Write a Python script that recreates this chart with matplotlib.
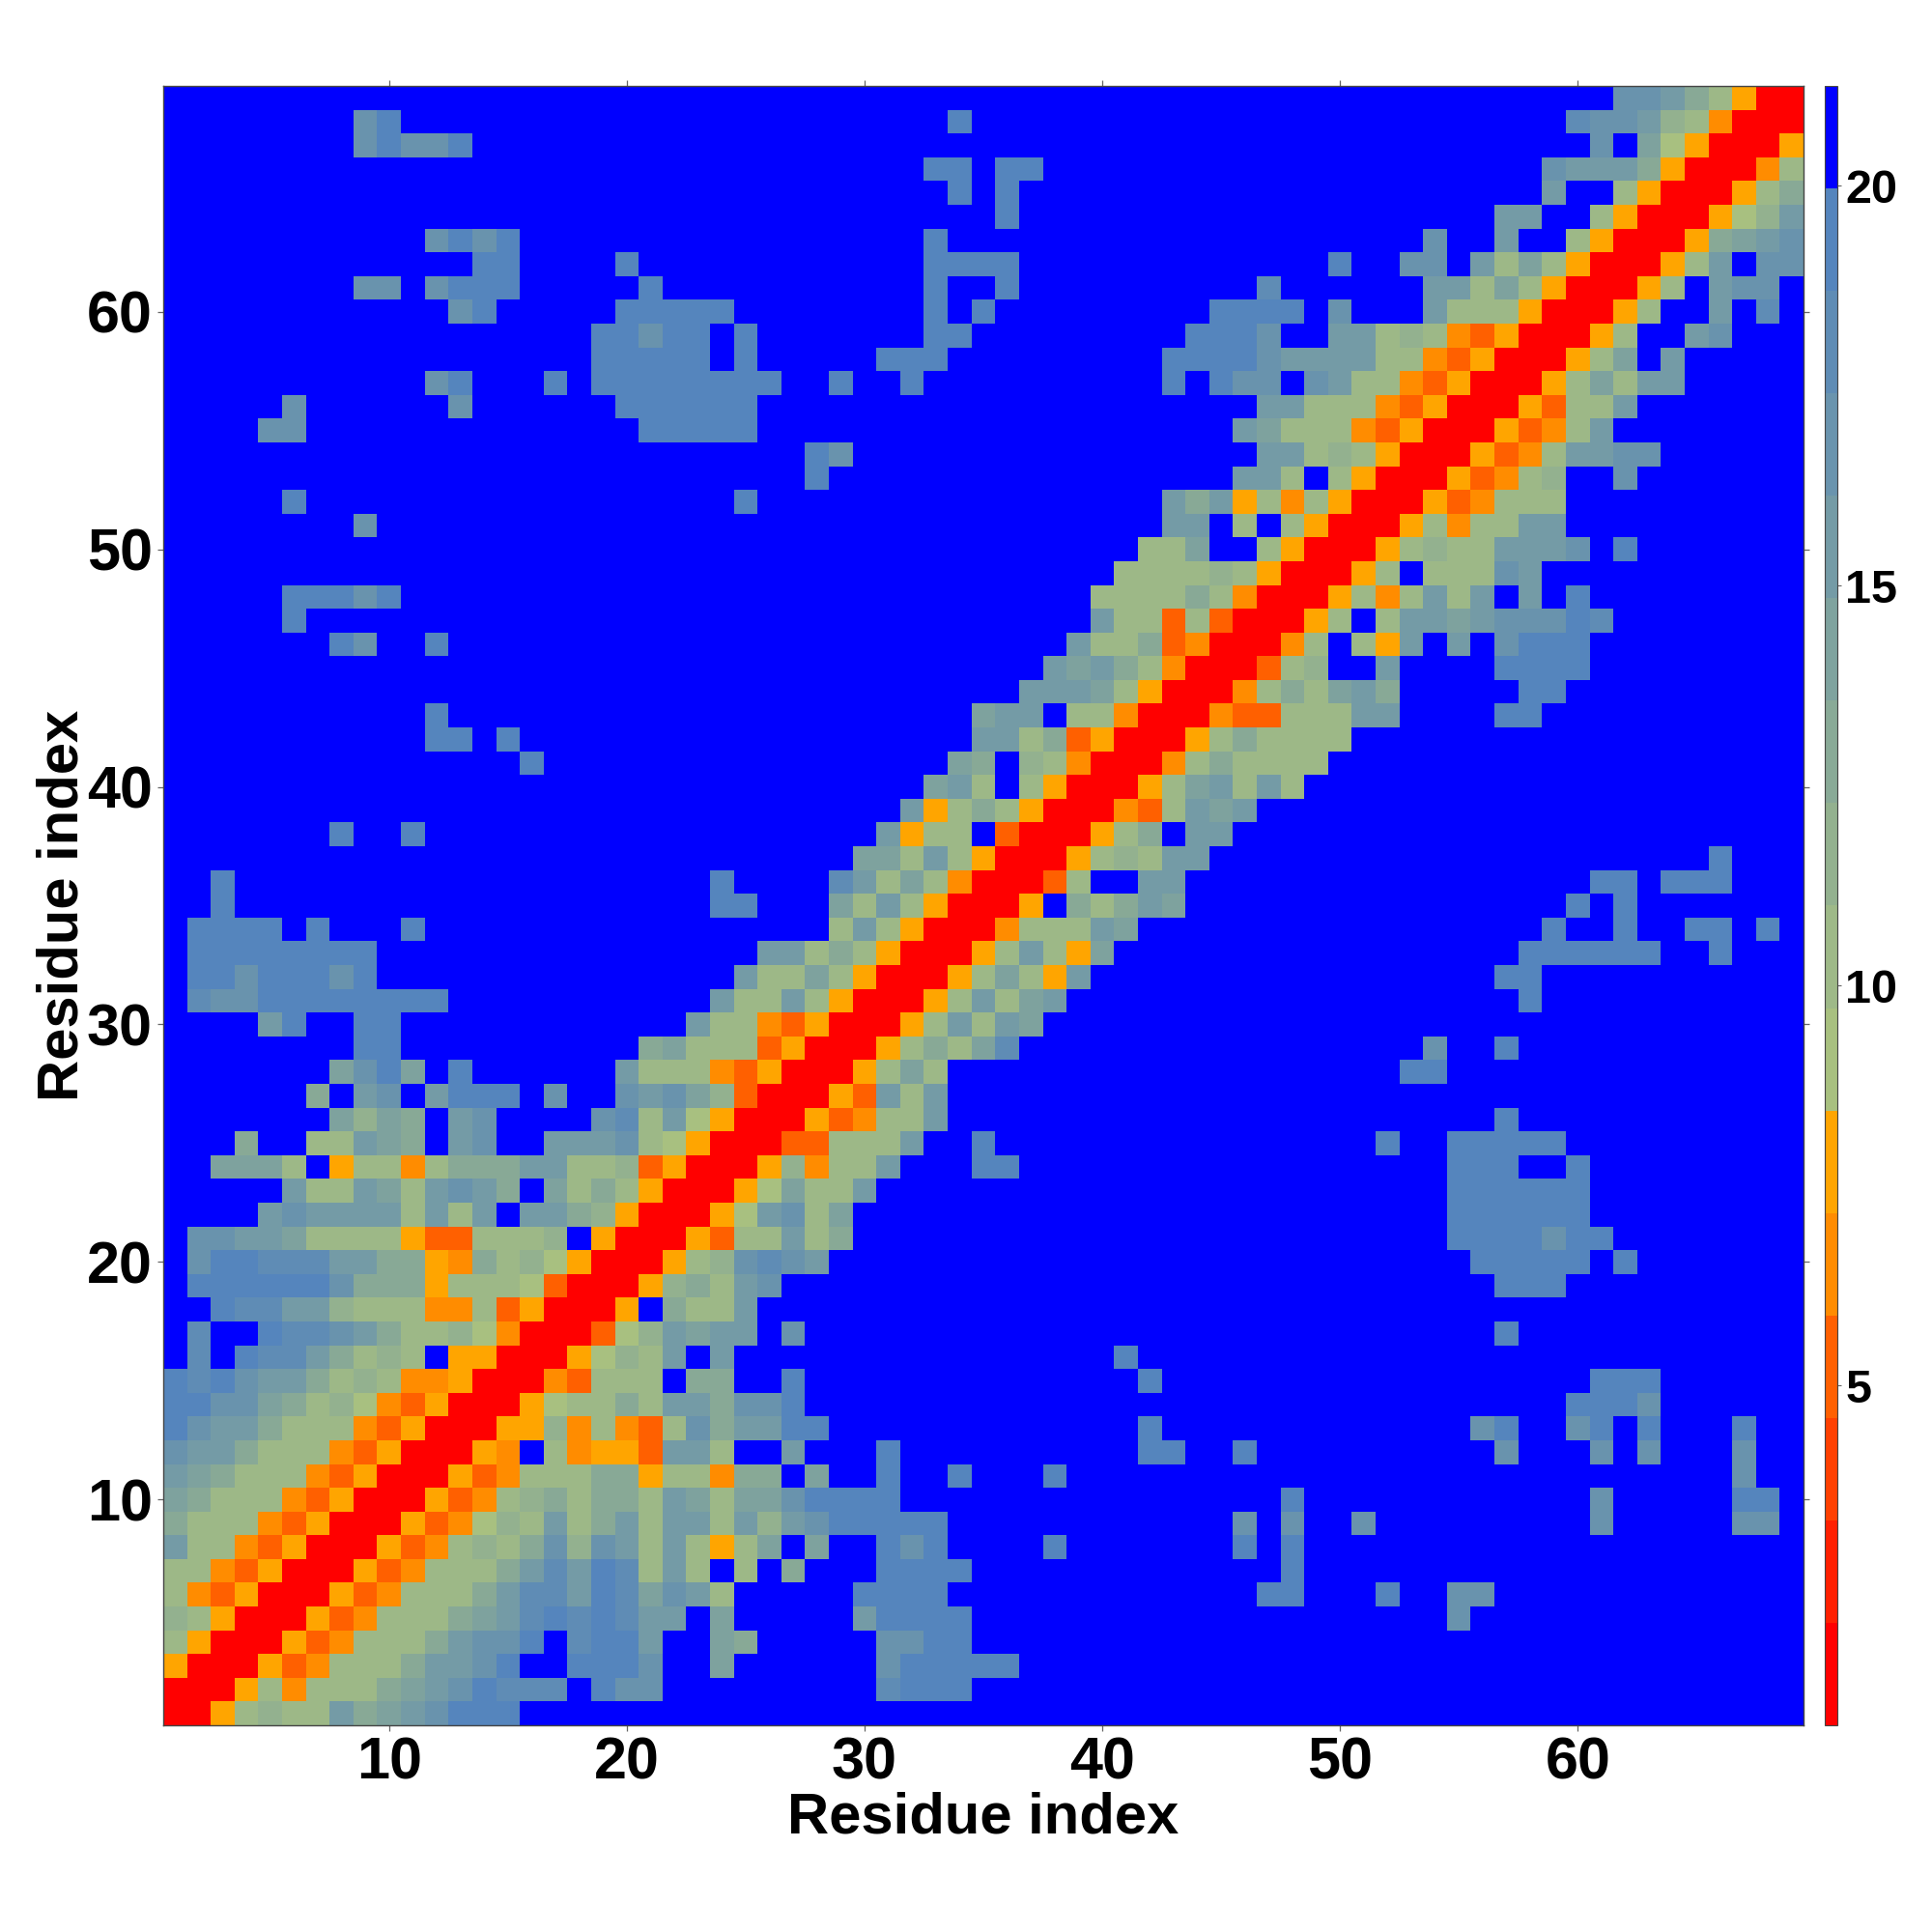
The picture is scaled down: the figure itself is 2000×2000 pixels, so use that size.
import numpy as np
import matplotlib
matplotlib.use("Agg")
import matplotlib.pyplot as plt
from matplotlib.colors import ListedColormap, BoundaryNorm, to_rgb

plt.rcParams['font.family'] = ['Liberation Sans', 'DejaVu Sans']
plt.rcParams['font.weight'] = 'bold'

N_RESIDUES = 69
TICKS = [10, 20, 30, 40, 50, 60]
CBAR_TICKS = [5, 10, 15, 20]
VMIN, VMAX, N_BINS = 0.75, 21.25, 16
CODES = "R12DOYbacdefghi."   # one letter per distance bin, near to far

# (row, first column, bins); symmetric map, everything else is far
ROWS_LOW = [
    (2, 1, "R"), (3, 1, "YR"), (4, 1, "aYR"), (5, 1, "caYR"), (6, 1, "aODYR"),
    (7, 1, "aaODYR"), (8, 1, "faaODYR"), (9, 1, "daaaODYR"), (10, 1, "edaaaODYR"),
    (11, 1, "fedaaaODYR"), (12, 1, "gffdaaaODYR"), (13, 1, "igffdaaaODYR"),
    (14, 1, "iiggedacbODYR"), (15, 1, "ihigffdacaOOYR"), (16, 1, ".h.ihhfdaca.YYR"),
    (17, 1, ".h..ihhgfdaacbOR"), (18, 1, "..ihhffcaaaOOaDYR"),
    (19, 1, ".iiiiiigdddYaaabDR"), (20, 1, ".giihhhffddYOdacbYR"),
    (21, 1, ".ggffeaaaaYDDaaac.YR"), (22, 1, "....fgffffafaf.ffdcYR"),
    (23, 1, ".....faafeafgfd.eadaYR"), (24, 1, "..eeea.YaaOadddffaacDYR"),
]
ROWS_MID = [
    (25, 4, "d"), (25, 7, "aafed.fg..fffgabYR"),
    (26, 8, "eced.fg....ghafbYR"), (27, 7, "d.fg.fiii.g..gfgecDR"),
    (28, 8, "egie.i......faaaODYR"), (29, 9, "ii"), (29, 21, "deaaaDYR"),
    (30, 5, "fi..ii"), (30, 23, "faaODYR"), (31, 2, "hggiiiiiiii"), (31, 24, "faafaYR"),
    (32, 2, "iigiiigi"), (32, 25, "faaeaYR"), (33, 2, "iiiiiiii"), (33, 26, "ffadaYR"),
    (34, 2, "iiii.i...i"), (34, 29, "afaYR"), (35, 3, "i"), (35, 24, "ii"),
    (35, 29, "eafaYR"), (36, 3, "i"), (36, 24, "i"), (36, 29, "hfaeaOR"),
    (37, 30, "eeafaYR"), (38, 8, "i..i"), (38, 31, "fYaa.DR"), (39, 32, "fYadaYR"),
    (40, 33, "efa.aYR"), (41, 16, "i"), (41, 34, "ed.caOR"),
    (42, 12, "ii.i"), (42, 35, "ffadDYR"), (43, 12, "i"), (43, 35, "eff.aaOR"),
    (44, 37, "fffeaYR"), (45, 38, "fefdaOR"),
]
ROWS_HIGH = [
    (46, 8, "ig..i"), (46, 39, "faadDOR"), (47, 6, "i"), (47, 40, "faaDaDR"),
    (48, 6, "iiigi"), (48, 40, "aaaadaOR"), (49, 41, "aaaacaYR"), (50, 42, "aae..aYR"),
    (51, 9, "g"), (51, 43, "ff.a.aYR"), (52, 6, "i"), (52, 25, "i"), (52, 43, "fdfYaOaYR"),
    (53, 28, "i"), (53, 46, "ffa.aYR"), (54, 28, "ig"), (54, 47, "ffacaYR"),
    (55, 5, "gg"), (55, 21, "iiiii"), (55, 46, "feaaaODYR"),
    (56, 6, "g"), (56, 13, "g"), (56, 20, "iiiiii"), (56, 47, "ffaaaODYR"),
    (57, 12, "gi"), (57, 17, "i"), (57, 19, "iiiiiiii"), (57, 29, "i"), (57, 32, "i"),
    (57, 43, "i.igg.gfaaODYR"),
    (58, 19, "iiiii"), (58, 25, "i"), (58, 31, "iii"), (58, 43, "iiiigffffaaODYR"),
    (59, 19, "iigii"), (59, 25, "i"), (59, 33, "ii"), (59, 44, "iiig..ffacaODYR"),
    (60, 13, "gi"), (60, 20, "iiiii"), (60, 33, "i"), (60, 35, "i"), (60, 45, "iiii.g...faaaYR"),
    (61, 9, "gg"), (61, 12, "giii"), (61, 21, "i"), (61, 33, "i"), (61, 36, "i"),
    (61, 47, "h"), (61, 54, "ffaeaYR"),
    (62, 14, "ii"), (62, 20, "i"), (62, 33, "iiii"), (62, 50, "i"), (62, 53, "gg.faeaYR"),
    (63, 12, "gigi"), (63, 33, "i"), (63, 54, "g..f..aYR"),
    (64, 36, "i"), (64, 57, "ff..aYR"), (65, 34, "i"), (65, 36, "i"), (65, 59, "f..aYR"),
    (66, 33, "ii"), (66, 36, "ii"), (66, 59, "gfffdYR"),
    (67, 9, "giggi"), (67, 61, "g.ebYR"), (68, 9, "gi"), (68, 34, "i"), (68, 60, "hggfcaOR"),
    (69, 62, "ggfdaYR"),
]
WARM_COLORS = ["#ff0000", "#ff2000", "#ff4000", "#ff6000", "#ff8c00", "#ffa500"]
COOL_NEAR, COOL_FAR, FAR_COLOR = "#a8c080", "#5585bd", "#0000ff"

bounds = np.linspace(VMIN, VMAX, N_BINS + 1)
centers = 0.5 * (bounds[:-1] + bounds[1:])
dist = np.full((N_RESIDUES, N_RESIDUES), centers[-1])
np.fill_diagonal(dist, centers[0])
for y, x0, codes in ROWS_LOW + ROWS_MID + ROWS_HIGH:
    for k, c in enumerate(codes):
        v = centers[CODES.index(c)]
        dist[y - 1, x0 - 1 + k] = v
        dist[x0 - 1 + k, y - 1] = v

c0, c1 = np.array(to_rgb(COOL_NEAR)), np.array(to_rgb(COOL_FAR))
cool = [tuple(c0 + (c1 - c0) * t) for t in np.linspace(0, 1, 9)]
cmap = ListedColormap(WARM_COLORS + cool + [FAR_COLOR])
norm = BoundaryNorm(bounds, cmap.N)

W = H = 2000
L, R, T, B = 169, 1867, 89, 1786
fig = plt.figure(figsize=(20, 20), dpi=100, facecolor="white")
ax = fig.add_axes([L / W, 1 - B / H, (R - L) / W, (B - T) / H])
im = ax.imshow(dist, origin="lower", cmap=cmap, norm=norm, interpolation="nearest",
               extent=(0.5, N_RESIDUES + 0.5, 0.5, N_RESIDUES + 0.5), aspect="auto")
ax.set_xticks(TICKS)
ax.set_yticks(TICKS)
ax.tick_params(axis="both", which="major", direction="out", length=4.5, width=0.9,
               color="#666666", labelsize=44, pad=3.5,
               top=True, right=True, labeltop=False, labelright=False)
for lab in ax.get_xticklabels() + ax.get_yticklabels():
    lab.set_fontweight("bold")
for s in ax.spines.values():
    s.set_linewidth(1.0)
    s.set_color("#444444")

fig.text((L + R) / 2 / W, 1 - 1898 / H, "Residue index", ha="center", va="baseline",
         fontsize=43, fontweight="bold")
fig.text(81 / W, 1 - (T + B) / 2 / H, "Residue index", ha="center", va="baseline",
         rotation=90, rotation_mode="anchor", fontsize=43, fontweight="bold")

cax = fig.add_axes([1889 / W, 1 - B / H, 13 / W, (B - T) / H])
cb = fig.colorbar(im, cax=cax, boundaries=bounds, spacing="proportional", ticks=CBAR_TICKS)
cb.ax.tick_params(direction="out", length=3, width=0.8, color="#666666", labelsize=35, pad=3)
cb.minorticks_off()
cb.set_ticklabels([str(t) for t in CBAR_TICKS])
for lab in cb.ax.get_yticklabels():
    lab.set_fontweight("bold")
cb.outline.set_linewidth(0.8)
cb.outline.set_edgecolor("#444444")

fig.savefig("out.png", dpi=100, facecolor="white")
